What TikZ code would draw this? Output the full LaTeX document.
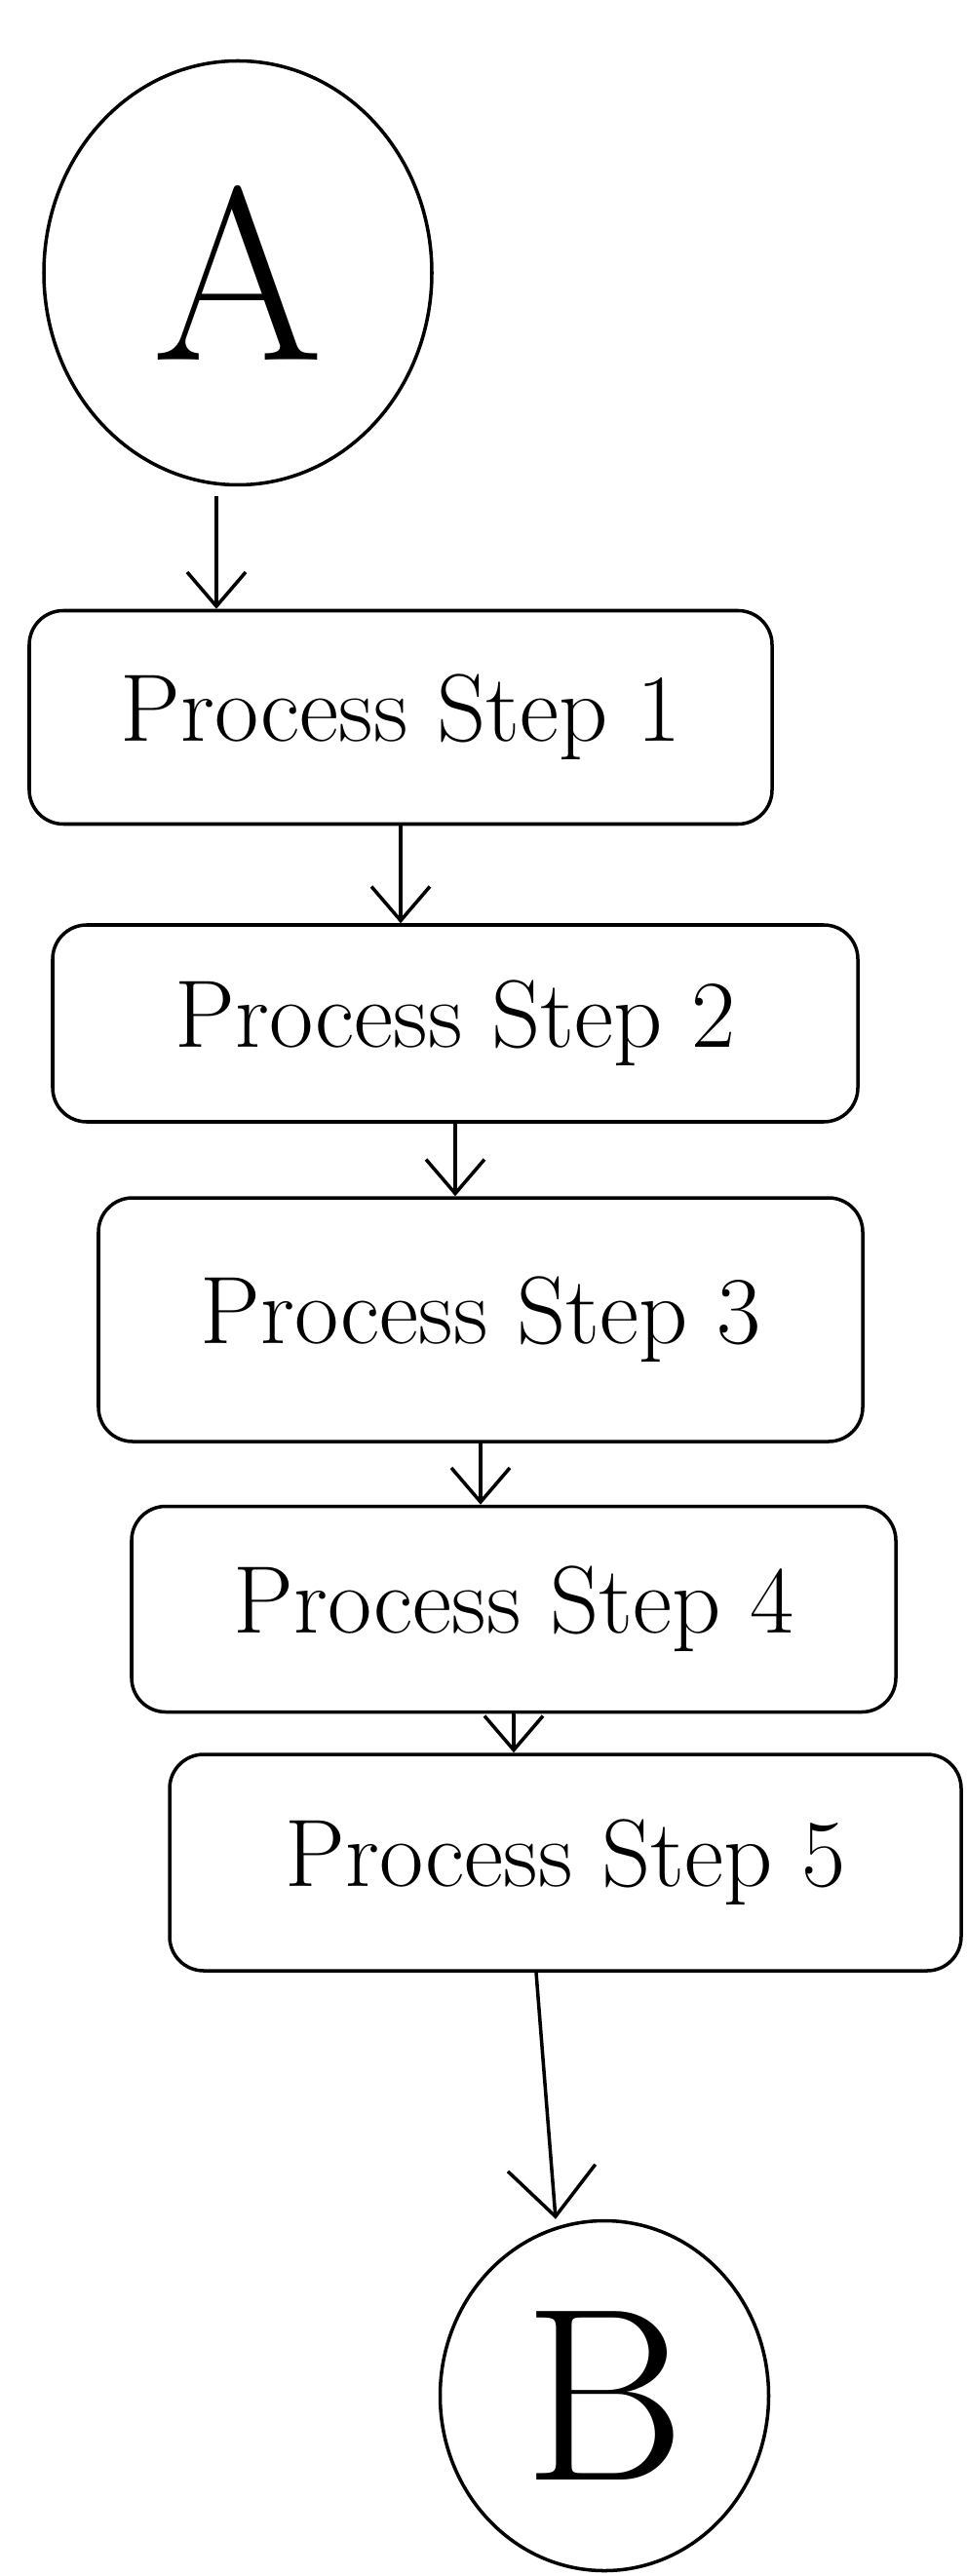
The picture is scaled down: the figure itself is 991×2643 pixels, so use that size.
\documentclass[tikz,border=0pt]{standalone}
\usetikzlibrary{positioning,shapes.geometric,arrows.meta}

\begin{document}
\begin{tikzpicture}[
        x=0.1mm, y=-0.1mm,
        line width=1pt,
        stepbox/.style={
            draw,
            rectangle,
            rounded corners=3.5mm,
            inner xsep=6pt,
            align=center,
            font=\fontsize{28}{34}\selectfont
        },
        terminal/.style={
            draw,
            ellipse,
            inner sep=0pt,
            font=\fontsize{72}{80}\selectfont
        },
        flow/.style={
            -{Straight Barb[length=3.5mm,width=6mm]}
        }
    ]
        \useasboundingbox (0,0) rectangle (991,2643);
        \node[terminal, minimum width=3.98cm, minimum height=4.35cm] (A) at (244,280) {A};
        \node[stepbox, minimum width=7.62cm, minimum height=2.19cm] (step1) at (411,736) {Process Step 1};
        \node[stepbox, minimum width=8.26cm, minimum height=2.02cm] (step2) at (467,1050) {Process Step 2};
        \node[stepbox, minimum width=7.84cm, minimum height=2.50cm] (step3) at (493,1354) {Process Step 3};
        \node[stepbox, minimum width=7.84cm, minimum height=2.11cm] (step4) at (527,1651) {Process Step 4};
        \node[stepbox, minimum width=8.12cm, minimum height=2.22cm] (step5) at (580,1911) {Process Step 5};
        \node[terminal, minimum width=3.37cm, minimum height=3.59cm] (B) at (620,2458) {B};

        \draw[flow, shorten <=1mm] ([xshift=-2.2mm]A.south) -- ([xshift=-2.2mm]A.south |- step1.north);
        \draw[flow] (step1.south) -- (step1.south |- step2.north);
        \draw[flow] (step2.south) -- (step2.south |- step3.north);
        \draw[flow] (step3.south) -- (step3.south |- step4.north);
        \draw[flow] (step4.south) -- (step4.south |- step5.north);
        \draw[-{Straight Barb[length=5mm,width=9mm]}] ([xshift=-3mm]step5.south) -- ([xshift=-5mm]B.north);
\end{tikzpicture}
\end{document}
